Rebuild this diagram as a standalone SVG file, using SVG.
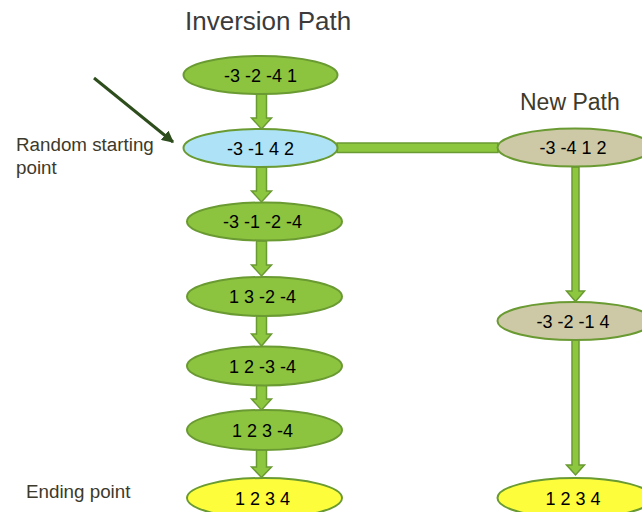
<svg xmlns="http://www.w3.org/2000/svg" width="642" height="512" viewBox="0 0 642 512">
  <style>
    .title { font-family: "Liberation Sans", Arial, sans-serif; fill: #3b3b3b; }
    .label { font-family: "Liberation Sans", Arial, sans-serif; fill: #3d3a2b; }
    .node text { font-family: "Liberation Sans", Arial, sans-serif; font-size: 18px; fill: #000; text-anchor: middle; }
    .node ellipse { stroke: #6a9a32; stroke-width: 2; }
    .green { fill: #8dc43f; }
    .blue { fill: #aee3f7; }
    .tan { fill: #cdc9a6; }
    .yellow { fill: #fdfd3c; }
    .block { fill: #8dc63f; stroke: #6a9a32; stroke-width: 1.5; stroke-linejoin: miter; }
    .pointer { stroke: #2e4d1d; stroke-width: 3; fill: none; }
  </style>
  <defs>
    <marker id="head" viewBox="0 0 10 10" refX="9" refY="5" markerWidth="4" markerHeight="4" orient="auto" markerUnits="strokeWidth">
      <path d="M0,0 L10,5 L0,10 z" fill="#2e4d1d"/>
    </marker>
  </defs>

  <rect width="642" height="512" fill="#ffffff"/>

  <!-- headings and side labels -->
  <text class="title" x="185" y="30" font-size="26">Inversion Path</text>
  <text class="label" x="520" y="110" font-size="23">New Path</text>
  <text class="label" x="16" y="151" font-size="18.8">Random starting</text>
  <text class="label" x="16" y="174" font-size="18.8">point</text>
  <text class="label" x="26" y="498" font-size="18.8">Ending point</text>

  <!-- connectors -->
  <g id="connectors">
    <line class="pointer" x1="94" y1="78" x2="173" y2="142" marker-end="url(#head)"/>
    <!-- main column block arrows -->
    <polygon class="block" points="256.5,94 266.5,94 266.5,118 271.5,118 261.5,129 251.5,118 256.5,118"/>
    <polygon class="block" points="256.5,167 266.5,167 266.5,191 271.5,191 261.5,202 251.5,191 256.5,191"/>
    <polygon class="block" points="256.5,241 266.5,241 266.5,265 271.5,265 261.5,276 251.5,265 256.5,265"/>
    <polygon class="block" points="256.5,316 266.5,316 266.5,334 271.5,334 261.5,346 251.5,334 256.5,334"/>
    <polygon class="block" points="256.5,385 266.5,385 266.5,399 271.5,399 261.5,410 251.5,399 256.5,399"/>
    <polygon class="block" points="256.5,450 266.5,450 266.5,467 271.5,467 261.5,477.5 251.5,467 256.5,467"/>
    <!-- branch to the new path -->
    <rect class="block" x="337" y="143" width="161" height="9.5"/>
    <!-- new path column block arrows -->
    <polygon class="block" points="572,167 579,167 579,291 584.5,291 575.5,301.5 566.5,291 572,291"/>
    <polygon class="block" points="572,340 579,340 579,465 584.5,465 575.5,475 566.5,465 572,465"/>
  </g>

  <!-- inversion path nodes -->
  <g id="n1" class="node">
    <ellipse class="green" cx="260.5" cy="75" rx="77" ry="19"/>
    <text x="260.5" y="81.5">-3 -2 -4 1</text>
  </g>
  <g id="n2" class="node">
    <ellipse class="blue" cx="260.5" cy="148" rx="77" ry="19"/>
    <text x="260.5" y="154.5">-3 -1 4 2</text>
  </g>
  <g id="n3" class="node">
    <ellipse class="green" cx="264.5" cy="221.5" rx="77.5" ry="19"/>
    <text x="262.5" y="228">-3 -1 -2 -4</text>
  </g>
  <g id="n4" class="node">
    <ellipse class="green" cx="264.5" cy="296.5" rx="77.5" ry="19.5"/>
    <text x="262.5" y="303">1 3 -2 -4</text>
  </g>
  <g id="n5" class="node">
    <ellipse class="green" cx="264.5" cy="366" rx="77.5" ry="19.5"/>
    <text x="262.5" y="372.5">1 2 -3 -4</text>
  </g>
  <g id="n6" class="node">
    <ellipse class="green" cx="264.5" cy="430" rx="77.5" ry="20"/>
    <text x="262.5" y="436.5">1 2 3 -4</text>
  </g>
  <g id="n7" class="node">
    <ellipse class="yellow" cx="264.5" cy="498" rx="77.5" ry="20"/>
    <text x="262.5" y="504.5">1 2 3 4</text>
  </g>

  <!-- new path nodes -->
  <g id="m1" class="node">
    <ellipse class="tan" cx="575" cy="147.5" rx="77.5" ry="19"/>
    <text x="573" y="154">-3 -4 1 2</text>
  </g>
  <g id="m2" class="node">
    <ellipse class="tan" cx="575" cy="321" rx="77.5" ry="19"/>
    <text x="573" y="327.5">-3 -2 -1 4</text>
  </g>
  <g id="m3" class="node">
    <ellipse class="yellow" cx="575" cy="498" rx="77.5" ry="20"/>
    <text x="573" y="504.5">1 2 3 4</text>
  </g>
</svg>
